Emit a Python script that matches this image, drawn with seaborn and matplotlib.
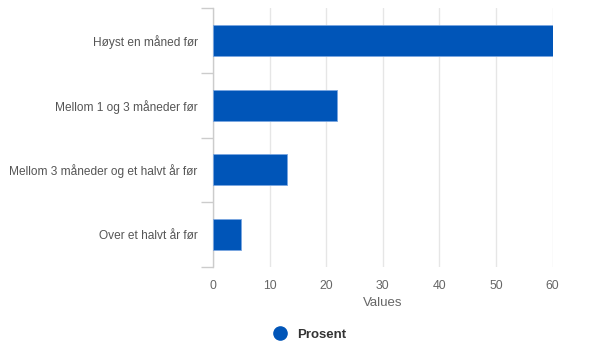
import matplotlib
matplotlib.use("Agg")
import matplotlib.pyplot as plt
import numpy as np
import pandas as pd
import seaborn as sns
from matplotlib.lines import Line2D

categories = ["Høyst en måned før", "Mellom 1 og 3 måneder før",
              "Mellom 3 måneder og et halvt år før", "Over et halvt år før"]
values = [60, 22, 13, 5]
series_name = "Prosent"
x_ticks = [0, 10, 20, 30, 40, 50, 60]

sns.set_theme(style="white")
plt.rcParams['font.family'] = ['Liberation Sans', 'DejaVu Sans']

df = pd.DataFrame({"category": categories, "value": values})

fig = plt.figure(figsize=(5.9, 3.46), dpi=100)
ax = fig.add_axes([0.361, 0.228, 0.576, 0.749])

sns.barplot(data=df, y="category", x="value", orient="h", color="#0055b8",
            width=0.48, edgecolor="#7aa6e0", linewidth=0.6, saturation=1, ax=ax, zorder=3)

ax.set_xlim(0, 60.05)
ax.set_ylim(len(categories) - 0.5, -0.5)
ax.set_xticks(x_ticks)
ax.grid(axis="x", color="#e6e6e6", linewidth=1, zorder=0)
ax.set_axisbelow(True)

for s in ["top", "right", "bottom"]:
    ax.spines[s].set_visible(False)
ax.spines["left"].set_color("#cccccc")
ax.spines["left"].set_linewidth(1)

# tick marks between categories
ax.set_yticks(np.arange(-0.5, len(categories), 1), minor=True)
ax.tick_params(axis="y", which="minor", length=9, color="#cccccc", width=1, left=True)
ax.tick_params(axis="y", which="major", length=0, pad=11, labelsize=8.6, labelcolor="#555555")
ax.tick_params(axis="x", length=0, pad=9, labelsize=8.8, labelcolor="#666666")

ax.set_ylabel("")
ax.set_xlabel("Values", fontsize=9.5, color="#666666", labelpad=4)

handle = Line2D([], [], marker="o", linestyle="", markersize=9.5, color="#0055b8")
fig.legend([handle], [series_name], loc="center", bbox_to_anchor=(0.52, 0.032),
           frameon=False, handletextpad=0.3, prop={"weight": "bold", "size": 9.5},
           labelcolor="#333333")

fig.savefig("out.png", dpi=100)
